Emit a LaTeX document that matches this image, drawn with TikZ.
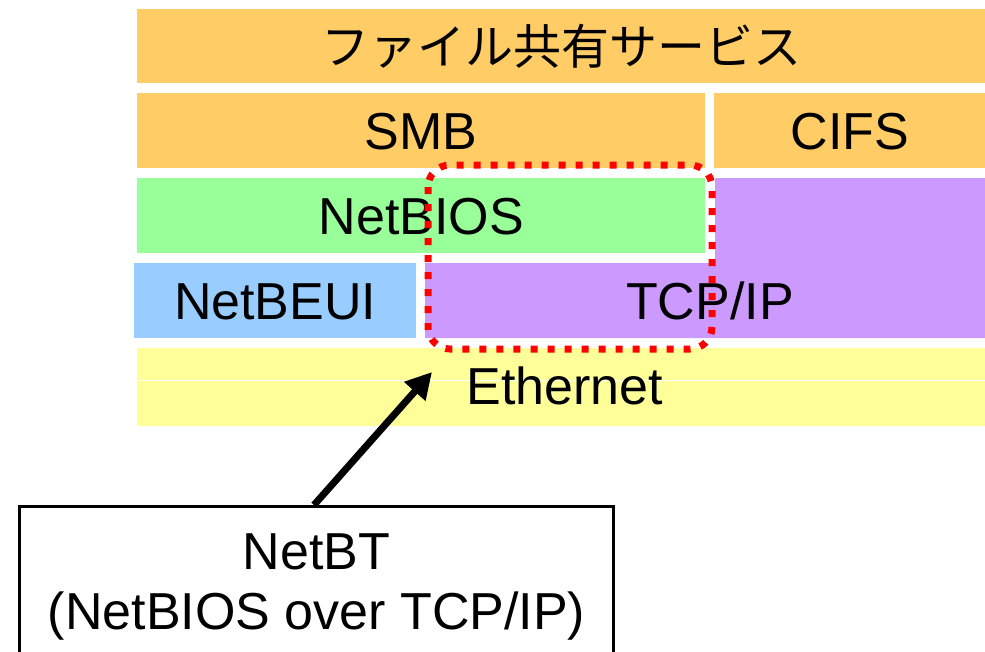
\documentclass[tikz,border=0pt]{standalone}
\usepackage{fontspec}
\setmainfont{Liberation Sans}
\newfontfamily\jpfont{Noto Sans CJK JP}
\usetikzlibrary{arrows.meta}
\definecolor{lorange}{HTML}{FFCC66}
\definecolor{lgreen}{HTML}{99FF99}
\definecolor{lpurple}{HTML}{CC99FF}
\definecolor{lblue}{HTML}{99CCFF}
\definecolor{lyellow}{HTML}{FFFF99}
\tikzset{
  big/.style={font=\fontsize{52}{60}\selectfont},
  layer/.style={big, anchor=north west, inner sep=0pt, text height=37pt, text depth=0pt},
  zone/.style={draw=red, line width=7pt, dash pattern=on 7pt off 10pt, rounded corners=22pt},
  pointer/.style={line width=7pt, -{Triangle[length=26pt,width=27pt]}},
}
\begin{document}
\begin{tikzpicture}[x=1pt,y=-1pt]
\useasboundingbox (0,0) rectangle (985,651);
% protocol stack layers
\node[layer, fill=lorange, minimum width=848pt, minimum height=74pt] (fs) at (137,9)
  {\jpfont\fontsize{48}{56}\selectfont ファイル共有サービス};
\node[layer, fill=lorange, minimum width=568pt, minimum height=75pt] (smb) at (137,93) {SMB};
\node[layer, fill=lorange, minimum width=271pt, minimum height=75pt] (cifs) at (714,93) {CIFS};
\node[layer, fill=lgreen, minimum width=568pt, minimum height=75pt] (netbios) at (137,178) {NetBIOS};
\node[layer, fill=lblue, minimum width=282pt, minimum height=75pt] (netbeui) at (134,263) {NetBEUI};
% TCP/IP spans under CIFS and beside NetBEUI
\fill[lpurple] (715,178) -- (985,178) -- (985,338) -- (425,338) -- (425,263) -- (715,263) -- cycle;
\node[layer] (tcpip) at (710,300.5) [anchor=center] {TCP/IP};
\node[layer, fill=lyellow, minimum width=848pt, minimum height=78pt] (eth) at (137,348) {};
\draw[white, line width=1pt] (137,380) -- (985,380);
\node[layer, anchor=center] (ethtext) at (565,386) {Ethernet};
% NetBIOS over TCP/IP region
\draw[zone] (428,165) rectangle (712,349);
% callout box
\node[draw=black, line width=3pt, big, minimum width=594pt, minimum height=160pt,
      anchor=north west, inner sep=0pt, align=center] (nbt) at (18,505)
  {NetBT\\(NetBIOS over TCP/IP)};
\coordinate (tip) at (432,372);
\draw[pointer] (nbt.north -| 314,0) -- (tip);
\end{tikzpicture}
\end{document}
